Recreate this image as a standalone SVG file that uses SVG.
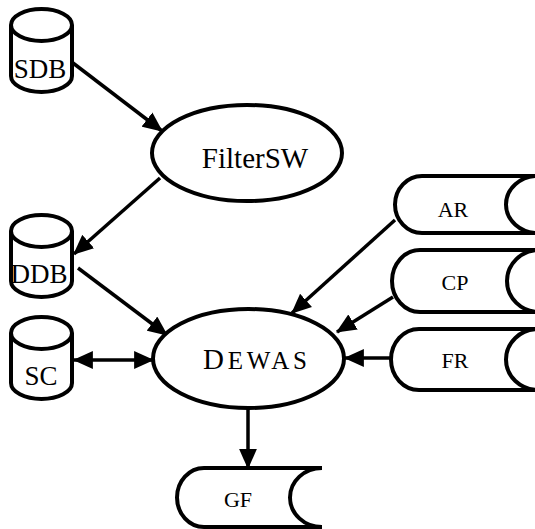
<svg xmlns="http://www.w3.org/2000/svg" width="535" height="529" viewBox="0 0 535 529">
<style>
.s{fill:#fff;stroke:#000;stroke-width:4}
.c{fill:none;stroke:#000;stroke-width:4}
.t{fill:#000;text-anchor:middle;font-family:"Liberation Serif","Times New Roman",serif}
.e{stroke:#000;stroke-width:3.5;fill:none;marker-end:url(#ah)}
</style>
<defs>
<marker id="ah" markerUnits="userSpaceOnUse" markerWidth="20" markerHeight="18" refX="17" refY="8" orient="auto-start-reverse" viewBox="0 0 18 16">
<path d="M0,0 L18,8 L0,16 z" fill="#000"/>
</marker>
</defs>
<g id="connectors">
<line class="e" x1="73" y1="63" x2="162" y2="131"/>
<line class="e" x1="160" y1="178" x2="74" y2="254"/>
<line class="e" x1="78" y1="268" x2="167" y2="335"/>
<line class="e" x1="74" y1="360" x2="153" y2="360" style="marker-start:url(#ah)"/>
<line class="e" x1="395" y1="220" x2="292" y2="313"/>
<line class="e" x1="393" y1="297" x2="337" y2="332"/>
<line class="e" x1="391" y1="358" x2="345" y2="358"/>
<line class="e" x1="248" y1="408" x2="248" y2="468"/>
</g>
<g id="SDB">
<path class="s" d="M11,25 L11,76 A30.5,16 0 0 0 72,76 L72,25"/>
<ellipse class="s" cx="41.5" cy="25" rx="30.5" ry="16"/>
<text class="t" x="40" y="78" font-size="27">SDB</text>
</g>
<g id="DDB">
<path class="s" d="M11,231 L11,281 A30.5,16 0 0 0 72,281 L72,231"/>
<ellipse class="s" cx="41.5" cy="231" rx="30.5" ry="16"/>
<text class="t" x="39" y="283" font-size="27">DDB</text>
</g>
<g id="SC">
<path class="s" d="M11,333 L11,383 A30.5,16 0 0 0 72,383 L72,333"/>
<ellipse class="s" cx="41.5" cy="333" rx="30.5" ry="16"/>
<text class="t" x="41" y="385" font-size="27">SC</text>
</g>
<g id="FilterSW">
<ellipse class="s" cx="247" cy="153" rx="95" ry="48"/>
<text class="t" x="255" y="168" font-size="29">FilterSW</text>
</g>
<g id="DEWAS">
<ellipse class="s" cx="248.5" cy="358.5" rx="95.5" ry="49.5"/>
<text class="t" x="255" y="369" font-size="25" textLength="104" lengthAdjust="spacing"><tspan font-size="29">D</tspan>EWAS</text>
</g>
<g id="AR">
<path class="s" d="M545,176 L422,176 A27,28.5 0 0 0 422,233 L545,233"/>
<path class="c" d="M538,176 A32,28.5 0 0 0 538,233"/>
<text class="t" x="453" y="217" font-size="22">AR</text>
</g>
<g id="CP">
<path class="s" d="M545,250 L420,250 A28,31 0 0 0 420,312 L545,312"/>
<path class="c" d="M539,250 A32,31 0 0 0 539,312"/>
<text class="t" x="455" y="290" font-size="22">CP</text>
</g>
<g id="FR">
<path class="s" d="M545,329 L419,329 A28,30.5 0 0 0 419,390 L545,390"/>
<path class="c" d="M538,329 A32,30.5 0 0 0 538,390"/>
<text class="t" x="455" y="368" font-size="22">FR</text>
</g>
<g id="GF">
<path class="s" d="M322,468 L204,468 A27,29.5 0 0 0 204,527 L322,527"/>
<path class="c" d="M322,468 A32,29.5 0 0 0 322,527"/>
<text class="t" x="238" y="507" font-size="22">GF</text>
</g>
</svg>
